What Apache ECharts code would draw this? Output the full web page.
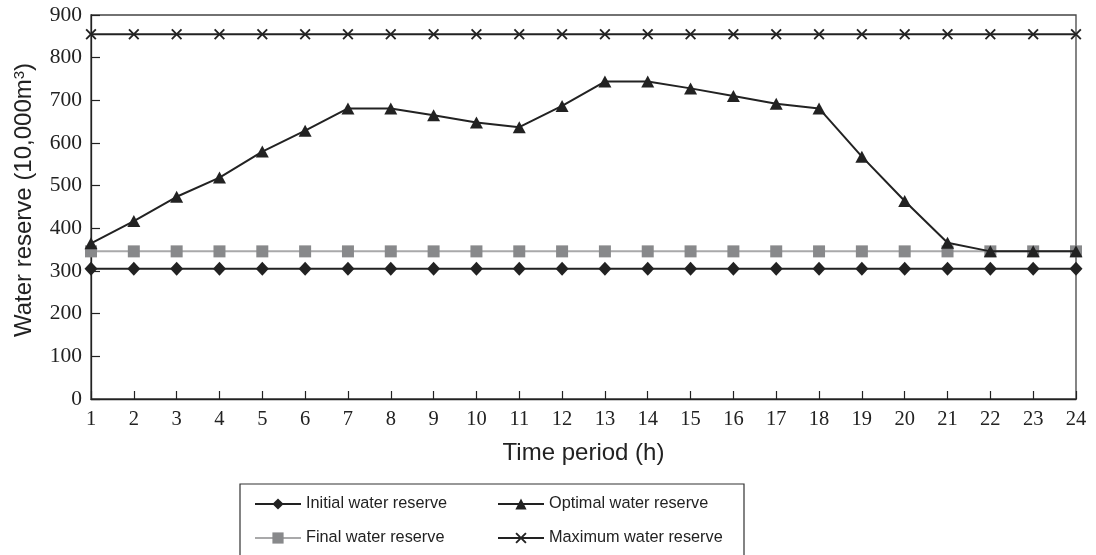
<!DOCTYPE html>
<html>
<head>
<meta charset="utf-8">
<script src="https://cdn.jsdelivr.net/npm/echarts@6/dist/echarts.min.js"></script>
<style>
  html, body { margin: 0; padding: 0; background: #fff; }
  #chart { width: 1096px; height: 555px; }
</style>
</head>
<body>
<div id="chart"></div>
<script>
// Hourly time periods
const periods = ['1','2','3','4','5','6','7','8','9','10','11','12','13','14','15','16','17','18','19','20','21','22','23','24'];

// Water reserve per period (10,000 m³)
const initialReserve = [305,305,305,305,305,305,305,305,305,305,305,305,305,305,305,305,305,305,305,305,305,305,305,305];
const finalReserve   = [346,346,346,346,346,346,346,346,346,346,346,346,346,346,346,346,346,346,346,346,346,346,346,346];
const optimalReserve = [365,417,474,519,580,629,681,681,665,648,637,687,744,744,728,710,692,681,568,464,366,346,346,346];
const maximumReserve = [855,855,855,855,855,855,855,855,855,855,855,855,855,855,855,855,855,855,855,855,855,855,855,855];

const seriesNames = ['Initial water reserve','Optimal water reserve','Final water reserve','Maximum water reserve'];

const DARK = '#222222';
const crossSymbol = 'path://M0,1.2L1.2,0L5,3.8L8.8,0L10,1.2L6.2,5L10,8.8L8.8,10L5,6.2L1.2,10L0,8.8L3.8,5Z';

const chart = echarts.init(document.getElementById('chart'), null, { renderer: 'canvas' });

chart.setOption({
  animation: false,
  backgroundColor: '#ffffff',
  grid: {
    left: 91, right: 20, top: 15, bottom: 156,
    show: true, borderColor: '#444', borderWidth: 1.3, backgroundColor: 'transparent'
  },
  legend: {
    data: seriesNames,
    left: 240, top: 484,
    width: 480,
    orient: 'horizontal',
    itemWidth: 46, itemHeight: 14, itemGap: 16,
    padding: [11, 20, 14, 14],
    borderColor: '#333', borderWidth: 1.2,
    textStyle: { fontFamily: 'Liberation Sans', fontSize: 16.3, color: DARK, width: 175, lineHeight: 18 }
  },
  xAxis: {
    type: 'category',
    data: periods,
    boundaryGap: false,
    name: 'Time period (h)',
    nameLocation: 'middle',
    nameGap: 42,
    nameTextStyle: { fontFamily: 'Liberation Sans', fontSize: 24, color: DARK, verticalAlign: 'top' },
    axisLine: { lineStyle: { color: DARK, width: 1.3 } },
    axisTick: { inside: true, length: 8, lineStyle: { color: DARK, width: 1.2 } },
    axisLabel: { margin: 10, fontFamily: 'Liberation Serif', fontSize: 20.5, color: DARK, interval: 0 },
    splitLine: { show: false }
  },
  yAxis: {
    type: 'value',
    min: 0, max: 900, interval: 100,
    name: 'Water reserve (10,000m{sup|3})',
    nameLocation: 'middle',
    nameGap: 55,
    nameRotate: 90,
    nameTextStyle: {
      fontFamily: 'Liberation Sans', fontSize: 24, color: DARK,
      padding: [0, 0, 0, 14],
      rich: { sup: { fontFamily: 'Liberation Sans', fontSize: 15, color: DARK, verticalAlign: 'top', padding: [0, 0, 9, 0] } }
    },
    axisLine: { show: true, lineStyle: { color: DARK, width: 1.3 } },
    axisTick: { show: true, inside: true, length: 9, lineStyle: { color: DARK, width: 1.2 } },
    axisLabel: { margin: 9, fontFamily: 'Liberation Serif', fontSize: 21.5, color: DARK },
    splitLine: { show: false }
  },
  series: [
    {
      name: seriesNames[0], type: 'line', data: initialReserve,
      symbol: 'diamond', symbolSize: [13, 14], z: 3,
      itemStyle: { color: DARK }, lineStyle: { color: DARK, width: 2 }
    },
    {
      name: seriesNames[2], type: 'line', data: finalReserve,
      symbol: 'rect', symbolSize: 12, z: 2,
      itemStyle: { color: '#88898b' }, lineStyle: { color: '#a9a9aa', width: 2 }
    },
    {
      name: seriesNames[1], type: 'line', data: optimalReserve,
      symbol: 'triangle', symbolSize: [13, 12], z: 4,
      itemStyle: { color: DARK }, lineStyle: { color: DARK, width: 2 }
    },
    {
      name: seriesNames[3], type: 'line', data: maximumReserve,
      symbol: crossSymbol, symbolSize: 11, z: 3,
      itemStyle: { color: DARK }, lineStyle: { color: DARK, width: 2 }
    }
  ]
});
</script>
</body>
</html>
